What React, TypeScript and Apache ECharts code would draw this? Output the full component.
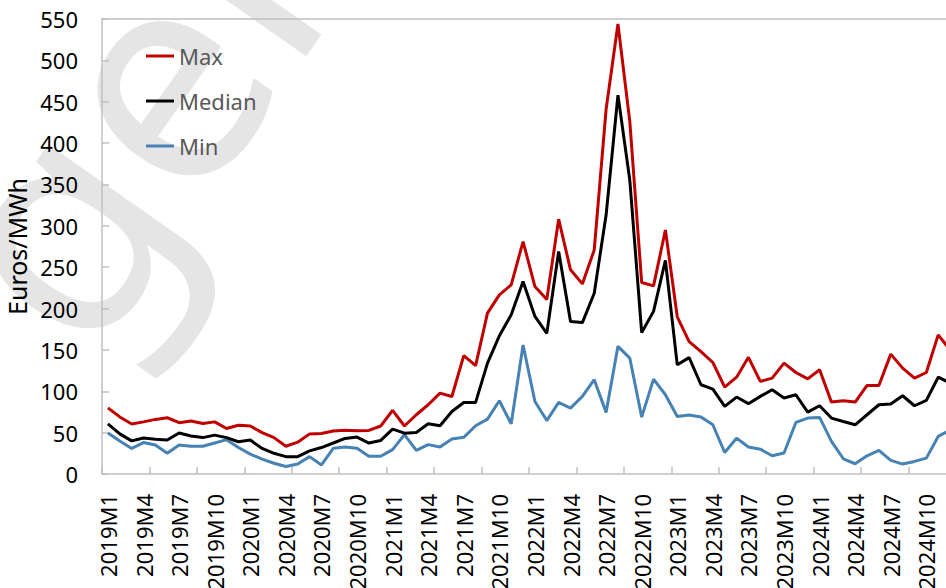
import React, { useEffect, useRef } from "react";
import * as echarts from "echarts";

const categories: string[] = [
  "2019M1","2019M2","2019M3","2019M4","2019M5","2019M6","2019M7","2019M8","2019M9","2019M10","2019M11","2019M12",
  "2020M1","2020M2","2020M3","2020M4","2020M5","2020M6","2020M7","2020M8","2020M9","2020M10","2020M11","2020M12",
  "2021M1","2021M2","2021M3","2021M4","2021M5","2021M6","2021M7","2021M8","2021M9","2021M10","2021M11","2021M12",
  "2022M1","2022M2","2022M3","2022M4","2022M5","2022M6","2022M7","2022M8","2022M9","2022M10","2022M11","2022M12",
  "2023M1","2023M2","2023M3","2023M4","2023M5","2023M6","2023M7","2023M8","2023M9","2023M10","2023M11","2023M12",
  "2024M1","2024M2","2024M3","2024M4","2024M5","2024M6","2024M7","2024M8","2024M9","2024M10","2024M11","2024M12",
];

const maxValues: number[] = [
  80, 69, 60.5, 63, 66, 68, 62, 64, 61, 63,
  55, 59, 58, 50, 44, 33.5, 38.5, 48.5, 49, 52,
  53, 52.3, 52.7, 58, 77, 58, 71.6, 83.7, 97.7, 93.7,
  143, 131, 194.4, 216.6, 228.6, 281, 226.6, 211, 308, 246.8,
  229.8, 270.9, 440.9, 544, 426, 231.4, 227.4, 295, 190, 160,
  148, 134.8, 105, 117, 141, 111.9, 115.9, 134, 122.7, 115,
  126, 86.9, 88.5, 86.9, 107, 107, 144.9, 128, 115.9, 122.7,
  168.2, 150,
];

const medianValues: number[] = [
  60.5, 48.5, 40, 43.5, 42, 41, 49.5, 46, 44, 47,
  44, 39, 41, 30.9, 25, 21, 21, 28, 32, 37.5,
  43, 44.6, 37.4, 40.6, 54.3, 49.4, 50.2, 60.7, 58.3, 75.6,
  86.5, 86.5, 134, 167, 192.4, 232.7, 190.4, 170, 269, 184.3,
  183, 218.5, 313, 458, 355, 171, 196.6, 258.3, 132, 140.7,
  107.9, 102.6, 81.7, 93, 85, 93.8, 101.8, 91.8, 95.8, 74.8,
  82.5, 67.6, 63.5, 59.5, 71.6, 83.7, 84.5, 94.6, 82.5, 89,
  117, 110,
];

const minValues: number[] = [
  49.5, 40, 30.9, 38, 35, 25, 35, 33.5, 33.5, 37.5,
  41.5, 32, 24, 18, 13, 9, 12, 21, 11, 31,
  32.5, 31, 21.4, 21.4, 29.4, 47.5, 28.6, 35.5, 32.6, 42.3,
  44.3, 58.3, 66.4, 88.5, 60.7, 156, 87.7, 64.6, 86.5, 79.7,
  93.8, 114, 74.5, 154.3, 140, 68.8, 114.7, 95.8, 69.6, 71.4,
  68.8, 59.5, 26, 43.4, 32.6, 30, 22, 25.3, 62.3, 67.6,
  68.4, 39.4, 18.4, 12.4, 22, 28.5, 16.4, 12, 15.2, 19.2,
  45.4, 53,
];

const FONT = "'Noto Sans', 'DejaVu Sans', sans-serif";
const GREY = "#bfbfbf";

export default function App() {
  const ref = useRef<HTMLDivElement>(null);
  useEffect(() => {
    if (!ref.current) return;
    const chart = echarts.init(ref.current, undefined, { renderer: "svg" });
    chart.setOption({
      animation: false,
      textStyle: { fontFamily: FONT },
      graphic: [
        {
          type: "text",
          x: 116,
          y: 386,
          rotation: (55 * Math.PI) / 180,
          z: 0,
          silent: true,
          style: {
            text: "gel",
            fontSize: 300,
            fontFamily: FONT,
            fill: "#e5e5e5",
            textAlign: "left",
            textVerticalAlign: "bottom",
          },
        },
      ],
      legend: {
        orient: "vertical",
        left: 146,
        top: 44,
        padding: 0,
        itemWidth: 28,
        itemHeight: 3,
        itemGap: 21,
        icon: "rect",
        textStyle: { fontSize: 22, color: "#595959", fontFamily: FONT, lineHeight: 24 },
        data: ["Max", "Median", "Min"],
      },
      grid: { left: 102, top: 19, width: 854, height: 455, containLabel: false, outerBoundsMode: "none" },
      xAxis: [
        {
          type: "category",
          data: categories,
          boundaryGap: true,
          axisLine: { lineStyle: { color: GREY, width: 1.5 } },
          axisTick: { show: true, inside: true, length: 7, interval: 3, lineStyle: { color: GREY, width: 1.5 } },
          axisLabel: { interval: 2, rotate: 90, fontSize: 22, color: "#000", margin: 20, fontFamily: FONT },
          splitLine: { show: false },
        },
        {
          type: "category",
          data: categories,
          position: "top",
          axisLine: { lineStyle: { color: GREY, width: 1.5 } },
          axisTick: { show: false },
          axisLabel: { show: false },
          splitLine: { show: false },
        },
      ],
      yAxis: {
        type: "value",
        min: 0,
        max: 550,
        interval: 50,
        name: "Euros/MWh",
        nameLocation: "middle",
        nameGap: 70,
        nameTextStyle: { fontSize: 25, color: "#000", fontFamily: FONT },
        axisLine: { show: true, lineStyle: { color: GREY, width: 1.5 } },
        axisTick: { show: true, inside: true, length: 7, lineStyle: { color: GREY, width: 1.5 } },
        axisLabel: { fontSize: 22, color: "#000", margin: 24, fontFamily: FONT },
        splitLine: { show: false },
      },
      series: [
        { name: "Min", type: "line", data: minValues, showSymbol: false, symbol: "none", itemStyle: { color: "#4682B4" }, lineStyle: { color: "#4682B4", width: 3 }, z: 2 },
        { name: "Median", type: "line", data: medianValues, showSymbol: false, symbol: "none", itemStyle: { color: "#000000" }, lineStyle: { color: "#000000", width: 3 }, z: 3 },
        { name: "Max", type: "line", data: maxValues, showSymbol: false, symbol: "none", itemStyle: { color: "#C00000" }, lineStyle: { color: "#C00000", width: 3 }, z: 4 },
      ],
    });
    return () => chart.dispose();
  }, []);
  return (
    <div
      ref={ref}
      style={{ position: "absolute", left: 0, top: 0, width: 946, height: 588, overflow: "hidden" }}
    />
  );
}
